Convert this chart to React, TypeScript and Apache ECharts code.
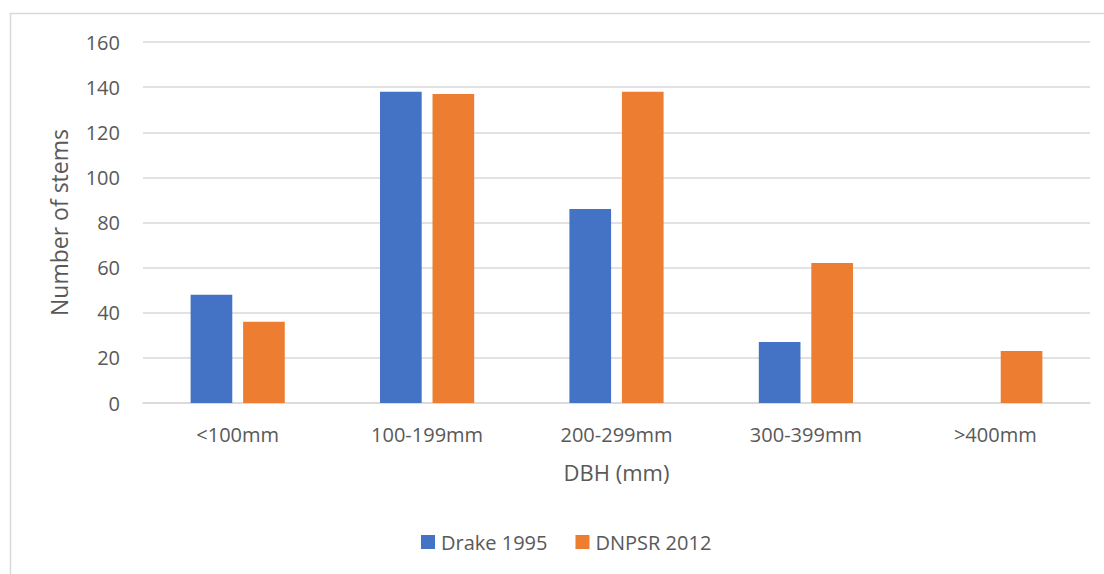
import React, { useEffect, useRef } from "react";
import * as echarts from "echarts";

const categories = ["<100mm", "100-199mm", "200-299mm", "300-399mm", ">400mm"];
const drake1995 = [48, 138, 86, 27, 0];
const dnpsr2012 = [36, 137, 138, 62, 23];
const seriesNames = ["Drake 1995", "DNPSR 2012"];

const FONT = "'Open Sans', 'Noto Sans', sans-serif";
const TXT = "#595959";

export default function App() {
  const ref = useRef<HTMLDivElement>(null);
  useEffect(() => {
    document.body.style.margin = "0";
    const chart = echarts.init(ref.current!, null, { renderer: "svg" });
    chart.setOption({
      animation: false,
      backgroundColor: "#ffffff",
      textStyle: { fontFamily: FONT },
      graphic: [
        {
          type: "rect",
          shape: { x: 10.5, y: 13.5, width: 1120, height: 600 },
          style: { fill: "none", stroke: "#d9d9d9", lineWidth: 1.5 },
          silent: true,
        },
      ],
      grid: { left: 143, right: 14, top: 42, bottom: 171 },
      legend: {
        data: seriesNames,
        top: 527,
        left: 416,
        itemWidth: 14,
        itemHeight: 14,
        itemGap: 28,
        icon: "rect",
        textStyle: { color: TXT, fontSize: 20, fontFamily: FONT, padding: [0, 0, 0, 1] },
      },
      xAxis: {
        type: "category",
        data: categories,
        name: "DBH (mm)",
        nameLocation: "middle",
        nameGap: 58,
        nameTextStyle: { color: TXT, fontSize: 22, fontFamily: FONT },
        axisLine: { lineStyle: { color: "#d9d9d9", width: 1.5 } },
        axisTick: { show: false },
        axisLabel: { color: TXT, fontSize: 20, margin: 21, fontFamily: FONT },
      },
      yAxis: {
        type: "value",
        min: 0,
        max: 160,
        interval: 20,
        name: "Number of stems",
        nameLocation: "middle",
        nameGap: 73,
        nameTextStyle: { color: TXT, fontSize: 23, fontFamily: FONT },
        axisLabel: { color: TXT, fontSize: 20, margin: 23, fontFamily: FONT },
        splitLine: { lineStyle: { color: "#d9d9d9", width: 1.5 } },
        axisLine: { show: false },
        axisTick: { show: false },
      },
      series: [
        {
          name: seriesNames[0],
          type: "bar",
          data: drake1995,
          barWidth: "22%",
          barGap: "26%",
          itemStyle: { color: "#4472C4" },
        },
        {
          name: seriesNames[1],
          type: "bar",
          data: dnpsr2012,
          barWidth: "22%",
          barGap: "26%",
          itemStyle: { color: "#ED7D31" },
        },
      ],
    });
    return () => chart.dispose();
  }, []);
  return <div ref={ref} style={{ width: 1104, height: 574 }} />;
}
